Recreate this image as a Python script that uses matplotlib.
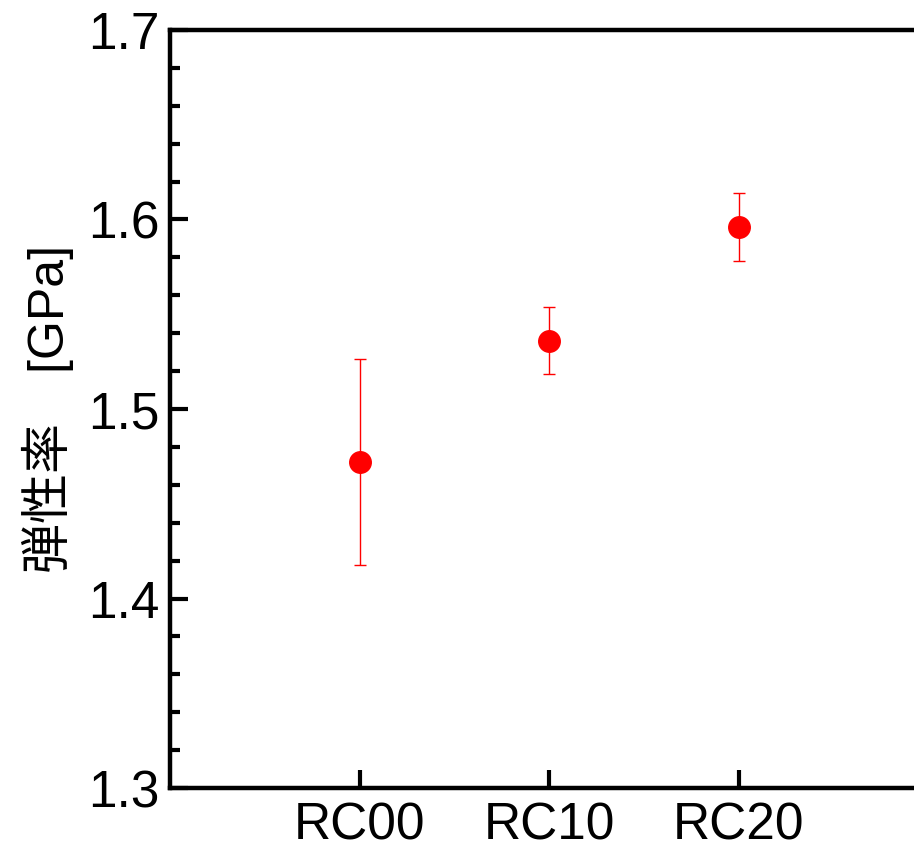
"""
弾性率のエラーバー付き散布図
"""

import matplotlib
matplotlib.use('Agg')
import matplotlib.pyplot as plt
from matplotlib.ticker import MultipleLocator, FormatStrFormatter

# データ
samples = ['RC00', 'RC10', 'RC20']
modulus = [1.472, 1.536, 1.596]
modulus_err = [0.0545, 0.0177, 0.018]

plt.rcParams['font.family'] = ['Liberation Sans', 'Noto Sans CJK JP']

fig = plt.figure(figsize=(9.14, 8.52), dpi=100)
# 軸の右端は画像の外まで伸びている
ax = fig.add_axes([0.1865, 0.0751, 0.8293, 0.8897])

x = list(range(len(samples)))
ax.errorbar(x, modulus, yerr=modulus_err, fmt='o', color='red',
            markersize=15.5, elinewidth=1.0, capsize=4.3, capthick=1.0,
            ecolor='red')

ax.set_xlim(-1, 3)
ax.set_ylim(1.3, 1.7)
ax.set_xticks(x)
ax.set_xticklabels(samples)
ax.yaxis.set_major_locator(MultipleLocator(0.1))
ax.yaxis.set_minor_locator(MultipleLocator(0.02))
ax.yaxis.set_major_formatter(FormatStrFormatter('%.1f'))

for s in ax.spines.values():
    s.set_linewidth(3.2)

ax.tick_params(axis='both', which='major', direction='in', length=13, width=3,
               labelsize=37)
ax.tick_params(axis='y', which='minor', direction='in', length=7.5, width=3)
ax.tick_params(axis='y', which='both', right=False, pad=8)
ax.tick_params(axis='x', which='both', top=False, pad=10)

ax.set_ylabel('弾性率\u3000[GPa]', fontsize=36, labelpad=10)

fig.savefig('out.png', dpi=100)
